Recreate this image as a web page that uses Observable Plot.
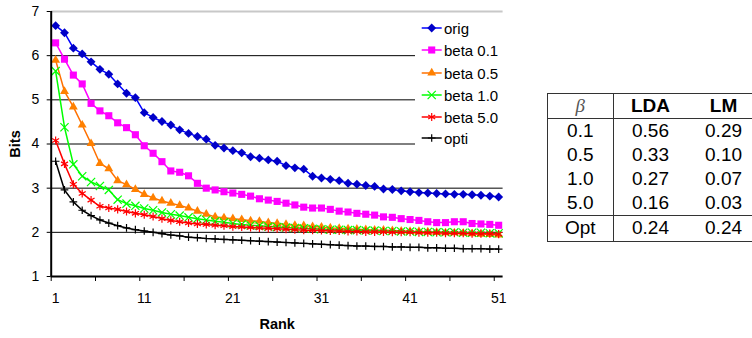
<!DOCTYPE html>
<html><head><meta charset="utf-8">
<script src="https://cdn.jsdelivr.net/npm/d3@7"></script>
<script src="https://cdn.jsdelivr.net/npm/@observablehq/plot@0.6"></script>
<style>
body{margin:0;background:#fff;font-family:"Liberation Sans",Arial,sans-serif;}
#wrap{position:relative;width:752px;height:338px;overflow:hidden;background:#fff;}
#legend{position:absolute;left:415px;top:14px;width:88px;height:136px;background:#fff;}
.li{position:absolute;left:0;height:20px;display:flex;align-items:center;font-size:15px;color:#000;white-space:nowrap;}
.li svg{display:block;}
table{position:absolute;left:546.5px;top:92.5px;border-collapse:collapse;font-size:19px;color:#000;
  border-top:1px solid #333;border-left:1px solid #333;border-bottom:1px solid #333;table-layout:fixed;}
td{padding:0;text-align:center;vertical-align:middle;}
td.c1{border-right:1px solid #333;}
tr.hd td{border-bottom:1px solid #333;font-weight:bold;}
tr.opt td{border-top:1px solid #333;}
.beta{font-family:"Liberation Serif","DejaVu Serif",serif;font-style:italic;font-weight:normal !important;color:#555;}
</style></head><body><div id="wrap"></div>
<script>
// ---- data ----
const ranks = d3.range(1, 52);
const seriesNames = ["orig", "beta 0.1", "beta 0.5", "beta 1.0", "beta 5.0", "opti"];
const orig = [6.68,6.52,6.17,6.04,5.86,5.69,5.58,5.36,5.15,5.05,
  4.71,4.60,4.51,4.43,4.32,4.24,4.17,4.11,3.97,3.91,
  3.85,3.80,3.71,3.68,3.64,3.61,3.51,3.46,3.43,3.27,
  3.23,3.20,3.17,3.11,3.09,3.06,3.04,2.98,2.97,2.94,
  2.92,2.90,2.89,2.88,2.87,2.86,2.86,2.85,2.84,2.82,2.80];
const beta01 = [6.29,5.92,5.56,5.36,4.92,4.75,4.64,4.48,4.37,4.21,
  3.96,3.79,3.60,3.39,3.36,3.28,3.11,3.00,2.96,2.92,
  2.89,2.86,2.82,2.76,2.73,2.70,2.66,2.62,2.57,2.55,
  2.55,2.52,2.48,2.46,2.43,2.41,2.39,2.35,2.34,2.31,
  2.29,2.27,2.24,2.22,2.22,2.24,2.24,2.20,2.19,2.18,2.16];
const beta05 = [5.90,5.19,4.84,4.43,4.01,3.56,3.44,3.17,3.08,2.97,
  2.86,2.78,2.71,2.66,2.61,2.55,2.48,2.41,2.35,2.33,
  2.31,2.29,2.26,2.25,2.22,2.20,2.18,2.16,2.15,2.13,
  2.12,2.10,2.09,2.08,2.07,2.06,2.05,2.05,2.04,2.03,
  2.02,2.02,2.01,2.00,1.99,1.99,1.98,1.97,1.96,1.95,1.94];
const beta10 = [5.65,4.38,3.54,3.27,3.14,3.05,2.96,2.74,2.65,2.60,
  2.54,2.50,2.45,2.41,2.38,2.34,2.31,2.28,2.25,2.23,
  2.20,2.18,2.16,2.15,2.13,2.12,2.11,2.10,2.09,2.08,
  2.07,2.06,2.06,2.05,2.05,2.04,2.04,2.03,2.03,2.02,
  2.02,2.01,2.01,2.00,2.00,2.00,1.99,1.99,1.99,1.98,1.98];
const beta50 = [4.08,3.55,3.09,2.88,2.73,2.59,2.55,2.52,2.47,2.43,
  2.40,2.36,2.31,2.27,2.24,2.21,2.19,2.18,2.16,2.15,
  2.13,2.12,2.11,2.10,2.09,2.08,2.07,2.06,2.05,2.05,
  2.04,2.03,2.03,2.02,2.02,2.01,2.01,2.01,2.00,2.00,
  2.00,1.99,1.99,1.99,1.98,1.98,1.98,1.97,1.97,1.97,1.96];
const opti = [3.61,2.96,2.69,2.50,2.38,2.28,2.21,2.15,2.10,2.06,
  2.03,2.00,1.97,1.94,1.92,1.89,1.88,1.86,1.85,1.84,
  1.83,1.82,1.81,1.80,1.79,1.78,1.77,1.76,1.75,1.74,
  1.73,1.72,1.71,1.70,1.69,1.69,1.68,1.68,1.67,1.67,
  1.66,1.66,1.65,1.65,1.64,1.64,1.63,1.63,1.63,1.62,1.62];
const seriesValues = [orig, beta01, beta05, beta10, beta50, opti];
const yTicks = [1, 2, 3, 4, 5, 6, 7];
const xTickLabels = [1, 11, 21, 31, 41, 51];
const xTickMarks = [0.5, 5.5, 10.5, 15.5, 20.5, 25.5, 30.5, 35.5, 40.5, 45.5, 50.5];

const tableHeader = ["β", "LDA", "LM"];
const tableBeta = ["0.1", "0.5", "1.0", "5.0", "Opt"];
const tableLDA = ["0.56", "0.33", "0.27", "0.16", "0.24"];
const tableLM = ["0.29", "0.10", "0.07", "0.03", "0.24"];

// ---- styles ----
const styles = [
  {stroke: "#0000FF", fill: "#0000C8", symbol: "diamond2", r: 4, filled: true},
  {stroke: "#FF00FF", fill: "#FF00FF", symbol: "square", r: 4, filled: true},
  {stroke: "#FF7000", fill: "#FF8000", symbol: "triangle", r: 3.3, filled: true},
  {stroke: "#00FF00", fill: "none", symbol: "times", r: 3.8, filled: false},
  {stroke: "#FF0000", fill: "none", symbol: "asterisk", r: 3.8, filled: false},
  {stroke: "#000000", fill: "none", symbol: "plus", r: 2.6, filled: false}
];

const rows = seriesNames.flatMap((s, i) => ranks.map((r, j) => ({series: s, rank: r, bits: seriesValues[i][j]})));

const marks = [
  Plot.ruleY([2, 3, 4, 5, 6], {stroke: "#000", strokeWidth: 1}),
  Plot.ruleY([7], {stroke: "#c8c8c8", strokeWidth: 2}),
];
seriesNames.forEach((s, i) => {
  const st = styles[i];
  const d = rows.filter(r => r.series === s);
  marks.push(Plot.line(d, {x: "rank", y: "bits", stroke: st.stroke, strokeWidth: 1.5}));
  marks.push(Plot.dot(d, st.filled
    ? {x: "rank", y: "bits", symbol: () => st.symbol, r: st.r, fill: st.fill, stroke: "none"}
    : {x: "rank", y: "bits", symbol: () => st.symbol, r: st.r, fill: "none", stroke: st.stroke, strokeWidth: 1.2}));
});
marks.push(
  Plot.ruleX([0.5], {stroke: "#000", strokeWidth: 2}),
  Plot.ruleY([1], {stroke: "#000", strokeWidth: 2}),
  Plot.axisY({ticks: yTicks, tickSize: 4, tickPadding: 8, tickFormat: d => String(d), fontSize: 14,
    label: "Bits", labelAnchor: "center", labelArrow: "none", labelOffset: 41, fontWeight: "normal"}),
  Plot.axisX({ticks: xTickMarks, tickSize: 5, tickFormat: () => "", label: null}),
  Plot.axisX({ticks: xTickLabels, tickSize: 0, tickPadding: 17, tickFormat: d => String(d), fontSize: 14,
    label: "Rank", labelAnchor: "center", labelArrow: "none", labelOffset: 52})
);

const chart = Plot.plot({
  width: 752, height: 338,
  marginLeft: 50.7, marginRight: 249.4, marginTop: 11, marginBottom: 62,
  x: {domain: [0.5, 51.5], range: [50.7, 502.6]},
  y: {domain: [1, 7], range: [276, 11]},
  symbol: {type: "identity"},
  style: {fontFamily: '"Liberation Sans", Arial, sans-serif', fontSize: "14px", background: "#fff", color: "#000", overflow: "visible"},
  marks
});
// bold axis titles
chart.querySelectorAll("g[aria-label='y-axis label'] text, g[aria-label='x-axis label'] text").forEach(t => {
  t.setAttribute("font-weight", "bold"); t.style.fontSize = "14.5px";
});

const wrap = document.getElementById("wrap");
wrap.appendChild(chart);

// ---- legend ----
const legend = document.createElement("div");
legend.id = "legend";
const centers = [14, 36, 59, 81, 103, 124];
seriesNames.forEach((s, i) => {
  const st = styles[i];
  const item = document.createElement("div");
  item.className = "li";
  item.style.top = (centers[i] - 10) + "px";
  const sw = d3.create("svg").attr("width", 29).attr("height", 20);
  sw.append("line").attr("x1", 6.7).attr("x2", 26.7).attr("y1", 10).attr("y2", 10)
    .attr("stroke", st.stroke).attr("stroke-width", 1.5);
  const symMap = {diamond2: d3.symbolDiamond2, square: d3.symbolSquare, triangle: d3.symbolTriangle,
    times: d3.symbolTimes, asterisk: d3.symbolAsterisk, plus: d3.symbolPlus};
  sw.append("path").attr("transform", "translate(16.7,10)")
    .attr("d", d3.symbol(symMap[st.symbol], st.r * st.r * Math.PI)())
    .attr("fill", st.filled ? st.fill : "none")
    .attr("stroke", st.filled ? "none" : st.stroke).attr("stroke-width", 1.2);
  item.appendChild(sw.node());
  const tx = document.createElement("span");
  tx.textContent = s;
  item.appendChild(tx);
  legend.appendChild(item);
});
wrap.appendChild(legend);

// ---- table ----
const table = document.createElement("table");
const colW = [66.6, 73.3, 73.3];
const cg = document.createElement("colgroup");
colW.forEach(w => { const c = document.createElement("col"); c.style.width = w + "px"; cg.appendChild(c); });
table.appendChild(cg);
table.style.width = d3.sum(colW) + "px";
const hr = document.createElement("tr"); hr.className = "hd";
tableHeader.forEach((h, i) => {
  const td = document.createElement("td"); td.textContent = h;
  if (i === 0) td.className = "c1 beta";
  td.style.height = "24px";
  hr.appendChild(td);
});
table.appendChild(hr);
tableBeta.forEach((b, i) => {
  const tr = document.createElement("tr");
  if (b === "Opt") tr.className = "opt";
  [b, tableLDA[i], tableLM[i]].forEach((v, j) => {
    const td = document.createElement("td"); td.textContent = v;
    if (j === 0) td.className = "c1";
    td.style.height = (b === "Opt" ? 25 : 24) + "px";
    td.style.lineHeight = "20px";
    tr.appendChild(td);
  });
  table.appendChild(tr);
});
wrap.appendChild(table);
</script></body></html>
